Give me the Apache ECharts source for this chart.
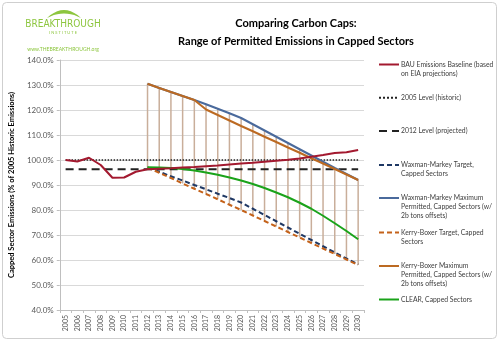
<!DOCTYPE html>
<html><head><meta charset="utf-8">
<script src="https://cdn.jsdelivr.net/npm/echarts@6/dist/echarts.min.js"></script>
<style>html,body{margin:0;padding:0;background:#fff}#c{width:500px;height:342px}</style>
</head><body><div id="c"></div>
<script>
const years = ['2005','2006','2007','2008','2009','2010','2011','2012','2013','2014','2015','2016','2017','2018','2019','2020','2021','2022','2023','2024','2025','2026','2027','2028','2029','2030'];
const bau = [100.0, 99.4, 100.9, 98.0, 92.9, 93.0, 95.3, 96.3, 96.5, 96.7, 97.0, 97.2, 97.5, 97.8, 98.2, 98.6, 98.9, 99.3, 99.7, 100.1, 100.6, 101.3, 102.0, 102.8, 103.1, 104.0];
const level2005 = [100,100,100,100,100,100,100,100,100,100,100,100,100,100,100,100,100,100,100,100,100,100,100,100,100,100];
const level2012 = [96.3,96.3,96.3,96.3,96.3,96.3,96.3,96.3,96.3,96.3,96.3,96.3,96.3,96.3,96.3,96.3,96.3,96.3,96.3,96.3,96.3,96.3,96.3,96.3,96.3,96.3];
const wmTarget = [null,null,null,null,null,null,null, 97.0, 95.3, 93.5, 91.8, 90.0, 88.3, 86.5, 84.8, 83.0, 80.5, 78.0, 75.5, 73.0, 70.5, 68.0, 65.5, 63.0, 60.6, 58.3];
const wmMax = [null,null,null,null,null,null,null, 130.5, 128.8, 127.2, 125.6, 124.0, 122.3, 120.5, 118.7, 116.8, 114.3, 111.8, 109.3, 106.8, 104.3, 101.8, 99.3, 96.8, 94.4, 92.0];
const kbTarget = [null,null,null,null,null,null,null, 97.0, 94.9, 92.8, 90.6, 88.5, 86.4, 84.3, 82.1, 80.0, 77.8, 75.6, 73.4, 71.2, 69.0, 66.8, 64.6, 62.4, 60.2, 58.0];
const kbMax = [null,null,null,null,null,null,null, 130.5, 128.8, 127.2, 125.6, 124.0, 120.2, 118.0, 115.8, 113.6, 111.5, 109.3, 107.2, 105.0, 102.9, 100.7, 98.6, 96.4, 94.2, 92.0];
const clear = [null,null,null,null,null,null,null, 97.1, 97.0, 96.8, 96.4, 95.8, 95.0, 94.1, 93.0, 91.8, 90.4, 88.8, 87.0, 85.1, 82.9, 80.5, 77.7, 74.7, 71.6, 68.3];
const seriesNames = [
  'BAU Emissions Baseline (based\non EIA projections)',
  '2005 Level (historic)',
  '2012 Level (projected)',
  'Waxman-Markey Target,\nCapped Sectors',
  'Waxman-Markey Maximum\nPermitted, Capped Sectors (w/\n2b tons offsets)',
  'Kerry-Boxer Target, Capped\nSectors',
  'Kerry-Boxer Maximum\nPermitted, Capped Sectors (w/\n2b tons offsets)',
  'CLEAR, Capped Sectors'
];
const titleText = 'Comparing Carbon Caps:\nRange of Permitted Emissions in Capped Sectors';
const yAxisTitle = 'Capped Sector Emissions (% of 2005 Historic Emissions)';

function hasFont(f) {
  const c = document.createElement('canvas').getContext('2d');
  const s = 'abcdefghijklmnopqrstuvwxyz ABCDEFGHIJ 0123456789';
  c.font = '20px monospace'; const w1 = c.measureText(s).width;
  c.font = '20px "' + f + '", monospace'; const w2 = c.measureText(s).width;
  c.font = '20px serif'; const w3 = c.measureText(s).width;
  c.font = '20px "' + f + '", serif'; const w4 = c.measureText(s).width;
  return w1 !== w2 || w3 !== w4;
}
const FONT = 'Lato';
const NARROW = hasFont('Liberation Sans Narrow');
const LEG_FONT = NARROW ? 'Liberation Sans Narrow' : 'Lato';
const LEG_SIZE = NARROW ? 7.6 : 6.8;

const rangeData = [];
years.forEach((y, i) => {
  if (wmMax[i] != null) {
    rangeData.push([i, Math.max(wmMax[i], kbMax[i]), Math.min(wmTarget[i], kbTarget[i])]);
  }
});

const legendCenters = [64.5, 97.7, 131, 165, 198, 232.5, 266, 299.5];
const LH = 9;
const legends = seriesNames.map((n, k) => {
  const lines = n.split('\n').length;
  const total = 2 * lines - 1;
  return {
    data: [n],
    orient: 'vertical',
    left: 378,
    top: legendCenters[k] - (total * LH) / 2,
    padding: 0,
    itemWidth: 20,
    itemHeight: 8,
    selectedMode: false,
    itemStyle: { opacity: 0 },
    formatter: (name) => '\n'.repeat(lines - 1) + name,
    textStyle: { fontFamily: LEG_FONT, fontSize: LEG_SIZE, lineHeight: LH, color: '#404040', padding: [0, 0, 0, -3] }
  };
});

function lineSeries(name, data, color, width, type, z) {
  return {
    name, type: 'line', data, symbol: 'none', smooth: false, z: z || 3,
    connectNulls: false, silent: true,
    lineStyle: { color, width, type },
    itemStyle: { color }
  };
}

// logo swoosh outline (decorative)
const swoosh = [];
for (let t = 0; t <= 1.0001; t += 0.1) {
  const x = (1 - t) * (1 - t) * 47 + 2 * (1 - t) * t * 64 + t * t * 81;
  const y = (1 - t) * (1 - t) * 18 + 2 * (1 - t) * t * 2 + t * t * 18;
  swoosh.push([x, y]);
}
for (let t = 1; t >= -0.0001; t -= 0.1) {
  const x = (1 - t) * (1 - t) * 47 + 2 * (1 - t) * t * 64 + t * t * 81;
  const y = (1 - t) * (1 - t) * 18 + 2 * (1 - t) * t * 9 + t * t * 18;
  swoosh.push([x, y]);
}

const chart = echarts.init(document.getElementById('c'), null, { renderer: 'canvas' });
chart.setOption({
  animation: false,
  backgroundColor: '#fff',
  textStyle: { fontFamily: FONT },
  title: {
    text: titleText,
    left: 296,
    textAlign: 'center',
    top: 14,
    padding: 0,
    textStyle: { fontFamily: FONT, fontSize: 11, fontWeight: 'bold', lineHeight: 18, color: '#000' }
  },
  legend: legends,
  grid: { left: 56, right: 136, top: 60, bottom: 32, containLabel: false },
  xAxis: {
    type: 'category', data: years, boundaryGap: true,
    axisLine: { lineStyle: { color: '#bfbfbf' } },
    axisTick: { show: true, interval: 0, length: 3, lineStyle: { color: '#bfbfbf' } },
    axisLabel: { rotate: 90, interval: 0, fontSize: 7, color: '#595959', margin: 5, fontFamily: FONT },
    splitLine: { show: false }
  },
  yAxis: {
    type: 'value', min: 40, max: 140, interval: 10,
    name: yAxisTitle, nameLocation: 'middle', nameGap: 38, nameRotate: 90,
    nameTextStyle: { fontFamily: FONT, fontSize: 7.5, fontWeight: 'bold', color: '#000' },
    axisLine: { show: true, lineStyle: { color: '#bfbfbf' } },
    axisTick: { show: true, length: 3, lineStyle: { color: '#bfbfbf' } },
    axisLabel: { fontSize: 8, color: '#595959', margin: 6, fontFamily: FONT, formatter: v => v.toFixed(1) + '%' },
    splitLine: { lineStyle: { color: '#d9d9d9', width: 1 } }
  },
  series: [
    {
      name: 'range', type: 'custom', data: rangeData, z: 1, silent: true,
      encode: { x: 0, y: [1, 2] },
      renderItem: (params, api) => {
        const hi = api.coord([api.value(0), api.value(1)]);
        const lo = api.coord([api.value(0), api.value(2)]);
        return { type: 'line', shape: { x1: hi[0], y1: hi[1], x2: lo[0], y2: lo[1] }, style: { stroke: '#c9ae9a', lineWidth: 1.5 } };
      }
    },
    lineSeries(seriesNames[0], bau, '#a3192f', 2, 'solid', 4),
    lineSeries(seriesNames[1], level2005, '#222', 1.5, 'dotted', 3),
    lineSeries(seriesNames[2], level2012, '#222', 2, [8, 5], 3),
    lineSeries(seriesNames[3], wmTarget, '#1f3864', 2, [5, 3], 3),
    lineSeries(seriesNames[4], wmMax, '#4a6a9c', 2, 'solid', 3),
    lineSeries(seriesNames[5], kbTarget, '#c4621a', 2, [5, 3], 3),
    lineSeries(seriesNames[6], kbMax, '#bc6a22', 2, 'solid', 3),
    lineSeries(seriesNames[7], clear, '#1aa31a', 2, 'solid', 3)
  ],
  graphic: [
    { type: 'rect', z: -1, shape: { x: 2.5, y: 2.5, width: 494, height: 336, r: 4 }, style: { fill: 'none', stroke: '#cfcfcf', lineWidth: 1 } },
    { type: 'polygon', shape: { points: swoosh }, style: { fill: '#8dc63f' } },
    { type: 'text', x: 63, y: 24, style: { text: 'BREAKTHROUGH', fontFamily: 'Liberation Sans Narrow, DejaVu Sans Condensed, sans-serif', fontSize: 10, fontWeight: 'normal', fill: '#8dc63f', align: 'center', verticalAlign: 'middle' } },
    { type: 'text', x: 63, y: 32.5, style: { text: 'I N S T I T U T E', fontFamily: FONT, fontSize: 4, fill: '#8dc63f', align: 'center', verticalAlign: 'middle' } },
    { type: 'text', x: 63, y: 49, style: { text: 'www.THEBREAKTHROUGH.org', fontFamily: FONT, fontSize: 5, fill: '#8dc63f', align: 'center', verticalAlign: 'middle' } }
  ]
});
</script>
</body></html>
